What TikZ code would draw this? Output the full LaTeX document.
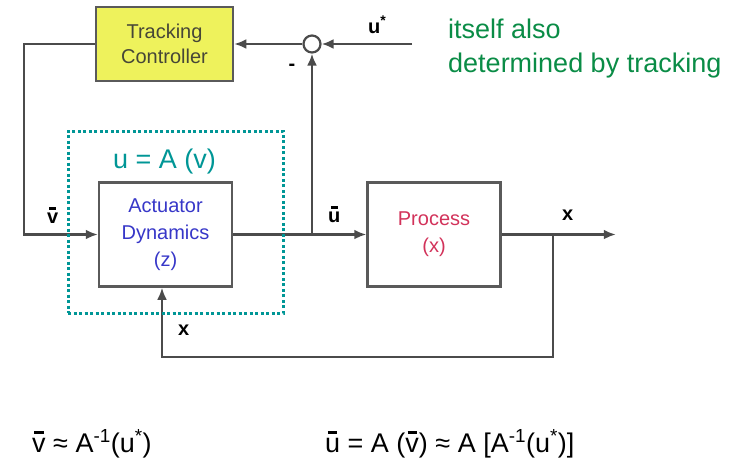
\documentclass[tikz,border=0pt]{standalone}
\usepackage{fontspec}
\setmainfont{Liberation Sans}
\usetikzlibrary{arrows.meta, positioning}

\definecolor{linegray}{RGB}{75,75,75}
\definecolor{boxgray}{RGB}{90,90,90}
\definecolor{trackfill}{RGB}{238,242,92}
\definecolor{tracktext}{RGB}{70,70,55}
\definecolor{acttext}{RGB}{55,55,200}
\definecolor{proctext}{RGB}{210,50,90}
\definecolor{tealnote}{RGB}{0,150,150}
\definecolor{greennote}{RGB}{10,140,70}

% letter with a short bar on top
\newcommand{\barred}[1]{\leavevmode\vbox{\offinterlineskip\halign{\hfil##\hfil\cr\rule{0.35em}{0.12em}\cr\noalign{\kern0.14em}#1\cr}}}

\begin{document}
\begin{tikzpicture}[
  x=1pt, y=-1pt,
  node distance=133pt,
  blk/.style={rectangle, draw=boxgray, line width=2.5pt, align=center, minimum width=133pt, minimum height=104pt, inner sep=0pt, font=\fontsize{20}{27}\selectfont},
  arr/.style={-{Latex[length=12pt,width=10pt]}, line width=2.5pt, draw=linegray},
  sig/.style={inner sep=0pt, anchor=base west, font=\bfseries\fontsize{20}{24}\selectfont},
  note/.style={inner sep=0pt, anchor=base west, align=left, font=\fontsize{27}{34}\selectfont}
]
\useasboundingbox (0,0) rectangle (751,463);

% blocks
\node[blk, fill=trackfill, minimum width=137pt, minimum height=74pt, text=tracktext, font=\fontsize{20}{25}\selectfont] (track) at (164.5,44) {Tracking\\Controller};
\node[circle, draw=linegray, fill=white, line width=2.2pt, minimum size=17pt, inner sep=0pt] (sum) at (312,44) {};
\node[blk, text=acttext] (act) at (165.5,234.5) {Actuator\\Dynamics\\(z)};
\node[blk, text=proctext, right=of act] (proc) {Process\\(x)};

% signal points
\coordinate (ustar) at (412,44);
\coordinate (br1) at (sum |- act.east);
\coordinate (br2) at ([xshift=51pt]proc.east);

% connectors
\draw[arr] (ustar) -- (sum);
\draw[arr] (sum) -- (track);
\draw[arr] (track.west) -- ++(-71,0) |- (act.west);
\draw[arr] (act.east) -- (proc.west);
\draw[arr] (br1) -- (sum);
\draw[arr] (proc.east) -- ++(114,0);
\draw[arr] (br2) -- ++(0,122.5) -| ([xshift=-3.5pt]act.south);

% signal labels
\node[sig] (lv) at (47,223) {\barred{v}};
\node[sig] (lu) at (328,222) {\barred{u}};
\node[sig] (lx) at (562,220) {x};
\node[sig] (lxf) at (178,335) {x};
\node[sig] (lus) at (368,33) {u\textsuperscript{*}};
\node[sig, anchor=center] (lminus) at (292,67) {-};

% actuator group
\node[draw=tealnote, line width=3pt, dash pattern=on 3pt off 2.5pt, minimum width=215pt, minimum height=182pt, inner sep=0pt] (grp) at (175.5,222) {};
\node[note, text=tealnote] (amap) at (113,168) {u = A (v)};

% notes
\node[note, text=greennote] (trk) at (448,72) {itself also\\determined by tracking};
\node[note] (eqv) at (32,452) {\barred{v} ≈ A\textsuperscript{-1}(u\textsuperscript{*})};
\node[note] (equ) at (325,452) {\barred{u} = A (\barred{v}) ≈ A [A\textsuperscript{-1}(u\textsuperscript{*})]};
\end{tikzpicture}
\end{document}
